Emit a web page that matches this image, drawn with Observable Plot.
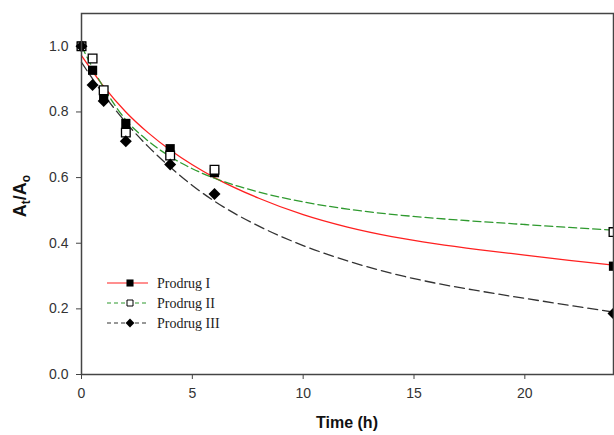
<!DOCTYPE html>
<html>
<head>
<meta charset="utf-8">
<script src="https://cdn.jsdelivr.net/npm/d3@7"></script>
<script src="https://cdn.jsdelivr.net/npm/@observablehq/plot@0.6"></script>
<style>
  body { margin: 0; background: #fff; }
  #chart { position: relative; width: 614px; height: 435px; }
  #legend { position: absolute; left: 0; top: 0; pointer-events: none; }
</style>
</head>
<body>
<div id="chart"></div>
<script>
// Measured remaining fraction A_t/A_o for each prodrug
const times = [0, 0.5, 1, 2, 4, 6, 24];
const prodrugI = [1.0, 0.927, 0.845, 0.765, 0.688, 0.615, 0.330];
const prodrugII = [1.0, 0.963, 0.866, 0.737, 0.667, 0.624, 0.434];
const prodrugIII = [1.0, 0.882, 0.833, 0.711, 0.640, 0.550, 0.186];

// Fitted decay curves, sampled along the time axis
const fitTimes = [0, 1, 2, 3, 4, 5, 6, 8, 10, 12, 14, 16, 18, 20, 22, 24];
const fitI = [0.972, 0.878, 0.800, 0.737, 0.684, 0.639, 0.600, 0.537, 0.487, 0.449, 0.420, 0.398, 0.380, 0.364, 0.348, 0.333];
const fitII = [1.0, 0.874, 0.776, 0.712, 0.664, 0.627, 0.598, 0.556, 0.526, 0.504, 0.488, 0.476, 0.466, 0.457, 0.448, 0.440];
const fitIII = [0.951, 0.853, 0.768, 0.695, 0.632, 0.576, 0.528, 0.452, 0.393, 0.346, 0.308, 0.278, 0.254, 0.232, 0.211, 0.190];

const seriesNames = ["Prodrug I", "Prodrug II", "Prodrug III"];
const xTicks = [0, 5, 10, 15, 20];
const yTicks = [0, 0.2, 0.4, 0.6, 0.8, 1.0];

const toRows = (xs, ys) => xs.map((t, i) => ({t, v: ys[i]}));
const ptsI = toRows(times, prodrugI);
const ptsII = toRows(times, prodrugII);
const ptsIII = toRows(times, prodrugIII);
const curveI = toRows(fitTimes, fitI);
const curveII = toRows(fitTimes, fitII);
const curveIII = toRows(fitTimes, fitIII);

const styles = [
  {stroke: "#ff2020", dash: null, fill: "#000", mstroke: "none"},
  {stroke: "#2f9a2f", dash: "8,4", fill: "#fff", mstroke: "#000"},
  {stroke: "#333333", dash: "10,5", fill: "#000", mstroke: "none"}
];

const plot = Plot.plot({
  width: 614,
  height: 435,
  marginLeft: 81,
  marginRight: 1,
  marginTop: 13,
  marginBottom: 61,
  x: {domain: [0, 24]},
  y: {domain: [0, 1.1]},
  style: {fontFamily: "Arial, 'Liberation Sans', sans-serif", fontSize: "14px", color: "#333", background: "#fff"},
  marks: [
    Plot.axisX({ticks: xTicks, tickSize: 5, tickPadding: 9, fontSize: 14, label: null, stroke: "#444"}),
    Plot.axisY({ticks: yTicks, tickSize: 5, tickPadding: 8, fontSize: 14, tickFormat: d3.format(".1f"), label: null, stroke: "#444"}),
    Plot.line(curveI, {x: "t", y: "v", stroke: styles[0].stroke, strokeWidth: 1.3, curve: "monotone-x"}),
    Plot.line(curveII, {x: "t", y: "v", stroke: styles[1].stroke, strokeWidth: 1.3, strokeDasharray: styles[1].dash, curve: "monotone-x"}),
    Plot.line(curveIII, {x: "t", y: "v", stroke: styles[2].stroke, strokeWidth: 1.3, strokeDasharray: styles[2].dash, curve: "monotone-x"}),
    Plot.dot(ptsI, {x: "t", y: "v", symbol: "square", r: 5.2, fill: "#000", stroke: "none"}),
    Plot.dot(ptsII, {x: "t", y: "v", symbol: "square", r: 4.9, fill: "#fff", stroke: "#000", strokeWidth: 1.3}),
    Plot.dot(ptsIII, {x: "t", y: "v", symbol: "diamond2", r: 5.4, fill: "#000", stroke: "none"}),
    Plot.frame({stroke: "#444", strokeWidth: 1.5})
  ]
});

const chart = document.getElementById("chart");
chart.appendChild(plot);

const svg = d3.select(plot);

// Axis titles
svg.append("text")
  .attr("x", 347).attr("y", 428)
  .attr("text-anchor", "middle")
  .style("font", "bold 16px Arial, 'Liberation Sans', sans-serif")
  .attr("fill", "#111")
  .text("Time (h)");

const yTitle = svg.append("text")
  .attr("transform", "translate(26,196) rotate(-90)")
  .attr("text-anchor", "middle")
  .style("font", "bold 18px Arial, 'Liberation Sans', sans-serif")
  .attr("fill", "#111");
yTitle.append("tspan").text("A");
yTitle.append("tspan").attr("baseline-shift", "-30%").style("font-size", "12px").text("t");
yTitle.append("tspan").text("/A");
yTitle.append("tspan").attr("baseline-shift", "-30%").style("font-size", "12px").text("o");

// Legend inside the plot area
const legend = d3.select(chart).append("svg")
  .attr("id", "legend")
  .attr("width", 614).attr("height", 435);
const rowY = [283, 303, 323];
const legendSymbols = [d3.symbolSquare, d3.symbolSquare, d3.symbolDiamond2];
const legendSizes = [50, 36, 50];
seriesNames.forEach((name, i) => {
  const g = legend.append("g").attr("transform", `translate(0,${rowY[i]})`);
  g.append("line")
    .attr("x1", 107).attr("x2", 148).attr("y1", 0).attr("y2", 0)
    .attr("stroke", styles[i].stroke).attr("stroke-width", 1.2)
    .attr("stroke-dasharray", styles[i].dash ? "4,3" : null);
  g.append("path")
    .attr("transform", "translate(130,0)")
    .attr("d", d3.symbol(legendSymbols[i], legendSizes[i])())
    .attr("fill", styles[i].fill)
    .attr("stroke", styles[i].mstroke === "none" ? null : styles[i].mstroke)
    .attr("stroke-width", 1);
  g.append("text")
    .attr("x", 157).attr("y", 5)
    .style("font", "14px 'Liberation Serif', 'Times New Roman', serif")
    .attr("fill", "#222")
    .text(name);
});
</script>
</body>
</html>
